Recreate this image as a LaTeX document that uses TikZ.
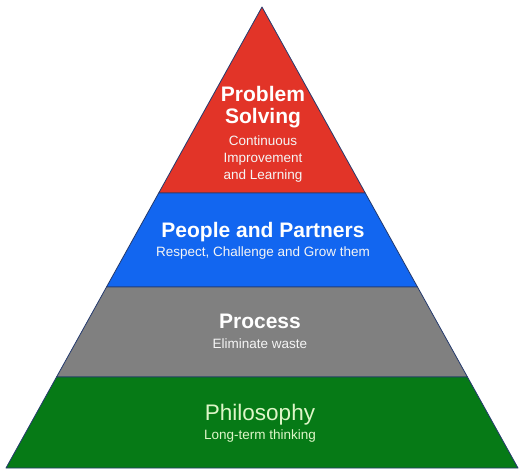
\documentclass[tikz,border=0pt]{standalone}
\usepackage{fontspec}
\setmainfont{Liberation Sans}
\usetikzlibrary{calc}
\definecolor{solvered}{RGB}{226,52,40}
\definecolor{peopleblue}{RGB}{18,102,240}
\definecolor{processgray}{RGB}{128,128,128}
\definecolor{philgreen}{RGB}{6,122,22}
\definecolor{edgenavy}{RGB}{36,58,110}
\definecolor{palegreen}{RGB}{222,246,200}

\begin{document}
\begin{tikzpicture}[x=1pt, y=-1pt, layer/.style={draw=edgenavy, line width=0.8pt, line join=round}, title/.style={anchor=base, align=center, text=white, font=\bfseries\fontsize{21}{22}\selectfont}, sub/.style={anchor=base, align=center, text=white!92!gray, font=\fontsize{13.5}{17.5}\selectfont}]
\useasboundingbox (0,0) rectangle (528,476);
\coordinate (apex) at (262,7);
\coordinate (baseL) at (6,468);
\coordinate (baseR) at (518,468);
\coordinate (redL) at ($(apex)!0.4035!(baseL)$);
\coordinate (redR) at ($(apex)!0.4035!(baseR)$);
\coordinate (blueL) at ($(apex)!0.6074!(baseL)$);
\coordinate (blueR) at ($(apex)!0.6074!(baseR)$);
\coordinate (grayL) at ($(apex)!0.8026!(baseL)$);
\coordinate (grayR) at ($(apex)!0.8026!(baseR)$);
% layers, top to bottom
\path[layer, fill=solvered] (apex) -- (redR) -- (redL) -- cycle;
\path[layer, fill=peopleblue] (redL) -- (redR) -- (blueR) -- (blueL) -- cycle;
\path[layer, fill=processgray] (blueL) -- (blueR) -- (grayR) -- (grayL) -- cycle;
\path[layer, fill=philgreen] (grayL) -- (grayR) -- (baseR) -- (baseL) -- cycle;
% texts (base = last line)
\node[title] (solving) at (263,124) {Problem\\Solving};
\node[sub] (solvingsub) at (263,180) {Continuous\\Improvement\\and Learning};
\node[title] (people) at (263,238) {People and Partners};
\node[sub] (peoplesub) at (263,257) {Respect, Challenge and Grow them};
\node[title] (process) at (260,328) {Process};
\node[sub] (processsub) at (260,348) {Eliminate waste};
\node[title, font=\fontsize{22.5}{24}\selectfont, text=palegreen] (philosophy) at (260,420) {Philosophy};
\node[sub, text=palegreen] (philosophysub) at (260,439) {Long-term thinking};
\end{tikzpicture}
\end{document}
